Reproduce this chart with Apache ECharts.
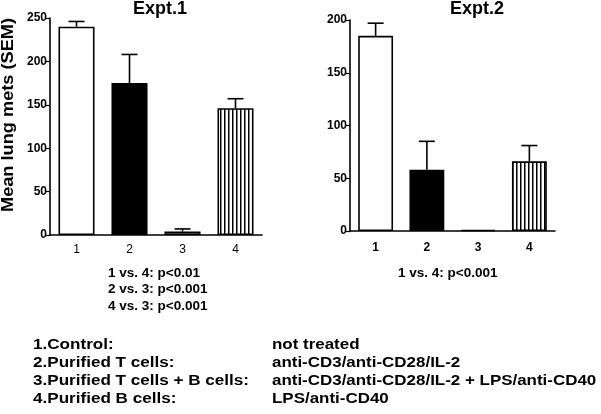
<!DOCTYPE html>
<html>
<head>
<meta charset="utf-8">
<script src="https://cdn.jsdelivr.net/npm/echarts@6/dist/echarts.min.js"></script>
<style>html,body{margin:0;padding:0;background:#fff}#c{width:601px;height:414px}</style>
</head>
<body>
<div id="c"></div>
<script>
const categories = ['1', '2', '3', '4'];
const expt1Means = [240, 175, 4, 146];
const expt1Sem = [6, 33, 3, 11];
const expt2Means = [185, 58, 1, 66];
const expt2Sem = [12, 27, 0, 15];
const expt1Ticks = [0, 50, 100, 150, 200, 250];
const expt2Ticks = [0, 50, 100, 150, 200];
const titles = ['Expt.1', 'Expt.2'];
const yTitle = 'Mean lung mets (SEM)';
const stats1 = ['1 vs. 4: p<0.01', '2 vs. 3: p<0.001', '4 vs. 3: p<0.001'];
const stats2 = ['1 vs. 4: p<0.001'];
const legendLeft = ['1.Control:', '2.Purified T cells:', '3.Purified T cells + B cells:', '4.Purified B cells:'];
const legendRight = ['not treated', 'anti-CD3/anti-CD28/IL-2', 'anti-CD3/anti-CD28/IL-2 + LPS/anti-CD40', 'LPS/anti-CD40'];

const FONT = '"Liberation Sans", Arial, sans-serif';

function stripes() {
  const cv = document.createElement('canvas');
  cv.width = 4; cv.height = 8;
  const ctx = cv.getContext('2d');
  ctx.fillStyle = '#fff'; ctx.fillRect(0, 0, 4, 8);
  ctx.fillStyle = '#000'; ctx.fillRect(0, 0, 1.5, 8);
  return cv;
}
const stripeImg = stripes();
const fills = ['#ffffff', '#000000', '#ffffff', { image: stripeImg, repeat: 'repeat' }];

function barData(vals) {
  return vals.map((v, i) => ({ value: v, itemStyle: { color: fills[i] } }));
}
function errData(means, sems) {
  return means.map((m, i) => [i, m, sems[i]]);
}
function renderErr(params, api) {
  const x = api.value(0), m = api.value(1), s = api.value(2);
  if (!s) return null;
  const p0 = api.coord([x, m]);
  const p1 = api.coord([x, m + s]);
  const h = 8;
  return {
    type: 'group',
    children: [
      { type: 'line', shape: { x1: p0[0], y1: p0[1], x2: p1[0], y2: p1[1] }, style: { stroke: '#000', lineWidth: 1.6 } },
      { type: 'line', shape: { x1: p1[0] - h, y1: p1[1], x2: p1[0] + h, y2: p1[1] }, style: { stroke: '#000', lineWidth: 1.6 } }
    ]
  };
}

function xAxis(gi, margin, bold) {
  return {
    type: 'category', gridIndex: gi, data: categories,
    axisLine: { lineStyle: { color: '#000', width: 1.6 } },
    axisTick: { alignWithLabel: true, length: 4, lineStyle: { color: '#000', width: 1.2 } },
    axisLabel: { color: '#000', fontFamily: FONT, fontSize: 12, fontWeight: bold ? 'bold' : 'normal', margin: margin }
  };
}
function yAxis(gi, ticks) {
  return {
    type: 'value', gridIndex: gi, min: ticks[0], max: ticks[ticks.length - 1], interval: ticks[1] - ticks[0],
    splitLine: { show: false },
    axisLine: { show: true, lineStyle: { color: '#000', width: 1.6 } },
    axisTick: { show: true, length: 4, lineStyle: { color: '#000', width: 1.2 } },
    axisLabel: { color: '#000', fontFamily: FONT, fontSize: 12, fontWeight: 'bold', margin: 3 }
  };
}

function txt(x, y, t, font, sx, extra) {
  return Object.assign({ type: 'text', x: x, y: y, scaleX: sx || 1,
    style: { text: t, font: font, fill: '#000', textVerticalAlign: 'middle' } }, extra || {});
}

const graphics = [];
graphics.push({ type: 'text', x: 160, y: 9, style: { text: titles[0], font: 'bold 18px ' + FONT, fill: '#000', textAlign: 'center', textVerticalAlign: 'middle' } });
graphics.push({ type: 'text', x: 477, y: 9, style: { text: titles[1], font: 'bold 18px ' + FONT, fill: '#000', textAlign: 'center', textVerticalAlign: 'middle' } });
graphics.push({ type: 'text', x: 8, y: 115, rotation: Math.PI / 2, scaleX: 1.07, style: { text: yTitle, font: 'bold 17px ' + FONT, fill: '#000', textAlign: 'center', textVerticalAlign: 'middle' } });
stats1.forEach((t, i) => graphics.push(txt(108, 273 + i * 16.5, t, 'bold 13px ' + FONT, 1.04)));
stats2.forEach((t, i) => graphics.push(txt(398, 273 + i * 16.5, t, 'bold 13px ' + FONT, 1.04)));
legendLeft.forEach((t, i) => graphics.push(txt(33, 345 + i * 18, t, 'bold 14px ' + FONT, 1.22)));
legendRight.forEach((t, i) => graphics.push(txt(272, 345 + i * 18, t, 'bold 14px ' + FONT, 1.21)));

const chart = echarts.init(document.getElementById('c'), null, { renderer: 'canvas' });
chart.setOption({
  backgroundColor: '#fff',
  animation: false,
  grid: [
    { left: 50, top: 18, width: 212, height: 217 },
    { left: 350, top: 20, width: 205, height: 211 }
  ],
  xAxis: [xAxis(0, 9, false), xAxis(1, 11, true)],
  yAxis: [yAxis(0, expt1Ticks), yAxis(1, expt2Ticks)],
  series: [
    { type: 'bar', xAxisIndex: 0, yAxisIndex: 0, barWidth: '68%', data: barData(expt1Means), itemStyle: { borderColor: '#000', borderWidth: 1.6 } },
    { type: 'custom', xAxisIndex: 0, yAxisIndex: 0, renderItem: renderErr, data: errData(expt1Means, expt1Sem), z: 5 },
    { type: 'bar', xAxisIndex: 1, yAxisIndex: 1, barWidth: '68%', data: barData(expt2Means), itemStyle: { borderColor: '#000', borderWidth: 1.6 } },
    { type: 'custom', xAxisIndex: 1, yAxisIndex: 1, renderItem: renderErr, data: errData(expt2Means, expt2Sem), z: 5 }
  ],
  graphic: graphics
});
</script>
</body>
</html>
